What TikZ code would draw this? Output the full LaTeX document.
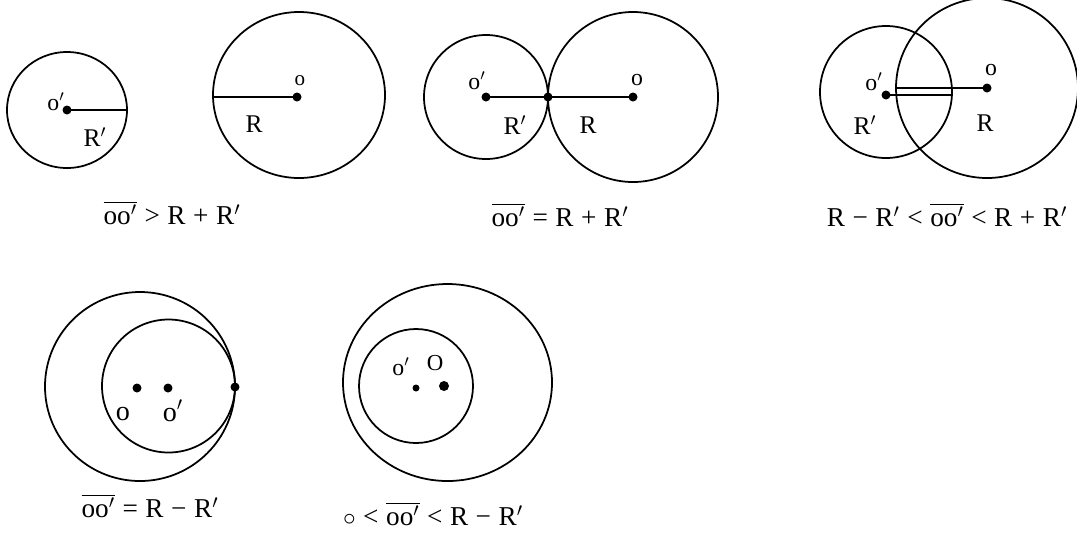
\documentclass[tikz,border=0pt]{standalone}
\usepackage{fontspec}
\setmainfont{Liberation Serif}
\usetikzlibrary{positioning}
\newcommand{\pr}{\ensuremath{{}^{\prime}}}
\newcommand{\seg}{$\overline{\mbox{oo\pr}}$}

\begin{document}
\begin{tikzpicture}[x=0.02cm,y=-0.02cm,line width=1pt,
  lbl/.style={font=\fontsize{14.5}{16}\selectfont,inner sep=0pt},
  olbl/.style={font=\fontsize{13.5}{15}\selectfont,inner sep=0pt},
  captxt/.style={font=\fontsize{15.5}{18}\selectfont,inner sep=0pt}]

\useasboundingbox (0,0) rectangle (1077,532);
\clip (0,0) rectangle (1077,532);

% apart
\coordinate (p1) at (67,110);   %o'
\coordinate (e1) at (127,110);
\coordinate (q1) at (297,97);   %o
\coordinate (f1) at (213,97);
\draw (p1) ellipse [x radius=60, y radius=58];
\draw (299,95) ellipse [x radius=86, y radius=83];
\draw (p1) -- (e1);
\draw (f1) -- (q1);
\fill (p1) circle [radius=4.5];
\fill (q1) circle [radius=4.5];
\node[olbl] (lp1) at (56,102) {o\pr};
\node[lbl]  (lr1) at (95,137) {R\pr};
\node[olbl,font=\fontsize{12}{14}\selectfont] (lq1) at (300,81) {o};
\node[lbl]  (ls1) at (254,124) {R};
\node[captxt] (c1) at (172,213) {\seg\;>\;R\;+\;R\pr};

% touching outside
\coordinate (p2) at (486,97);   %o'
\coordinate (t2) at (548,97);   %contact
\coordinate (q2) at (633,97);   %o
\draw (p2) circle [radius=62];
\draw (q2) circle [radius=85];
\draw (p2) -- (t2) -- (q2);
\foreach \c in {p2,t2,q2} \fill (\c) circle [radius=4.5];
\node[olbl] (lp2) at (477,81) {o\pr};
\node[olbl] (lq2) at (637,80) {o};
\node[lbl]  (lr2) at (515,125) {R\pr};
\node[lbl]  (ls2) at (588,125) {R};
\node[captxt] (c2) at (560,215) {\seg\;=\;R\;+\;R\pr};

% crossing
\coordinate (p3) at (886,95);   %o'
\coordinate (e3) at (952,95);
\coordinate (q3) at (987,88);   %o
\coordinate (f3) at (896,88);
\draw (886,92) circle [radius=66];
\draw (q3) ellipse [x radius=91, y radius=90];
\draw (p3) -- (e3);
\draw (f3) -- (q3);
\fill (p3) circle [radius=4.5];
\fill (q3) circle [radius=4.5];
\node[olbl] (lp3) at (874,82) {o\pr};
\node[olbl] (lq3) at (991,70) {o};
\node[lbl]  (lr3) at (865,125) {R\pr};
\node[lbl]  (ls3) at (985,123) {R};
\node[captxt] (c3) at (947,215) {R\;−\;R\pr\;<\;\seg\;<\;R\;+\;R\pr};

% touching inside
\coordinate (q4) at (137,388);  %o
\coordinate (p4) at (168,388);  %o'
\coordinate (t4) at (235,387);  %contact
\draw (140,386.5) ellipse [x radius=95, y radius=94.5];
\draw (168.5,386) circle [radius=66.5];
\foreach \c in {q4,p4,t4} \fill (\c) circle [radius=4.5];
\node[olbl,font=\fontsize{16}{18}\selectfont] (lq4) at (123,414) {o};
\node[olbl,font=\fontsize{16}{18}\selectfont] (lp4) at (173,411) {o\pr};
\node[captxt] (c4) at (150,506) {\seg\;=\;R\;−\;R\pr};

% one inside the other
\coordinate (p5) at (416,388);  %o'
\coordinate (q5) at (444,386);  %o
\draw (447.5,382.5) ellipse [x radius=104.5, y radius=98.5];
\draw (416,386) circle [radius=57];
\fill (p5) circle [radius=3.5];
\fill (q5) circle [radius=5];
\node[olbl] (lp5) at (401,367) {o\pr};
\node[olbl,font=\fontsize{13}{14}\selectfont] (lq5) at (435,363) {O};
\node[captxt] (c5) at (433,514) {$\circ$\;<\;\seg\;<\;R\;−\;R\pr};

\end{tikzpicture}
\end{document}
